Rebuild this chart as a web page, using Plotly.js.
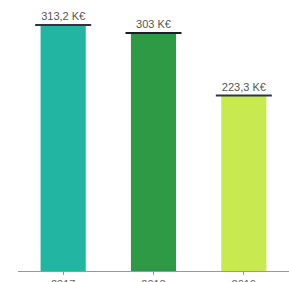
<!DOCTYPE html>
<html>
<head>
<meta charset="utf-8">
<script src="https://cdn.plot.ly/plotly-3.0.1.min.js"></script>
<style>html,body{margin:0;padding:0;background:#fff;}#chart{width:289px;height:282px;}</style>
</head>
<body>
<div id="chart"></div>
<script>
const years = ['2017', '2018', '2019'];
const values = [313.2, 303, 223.3];
const labels = ['313,2 K€', '303 K€', '223,3 K€'];
const barColors = ['#22b5a1', '#2e9a45', '#c8e94f'];
const capColors = ['#2f3346', '#1e1e1e', '#2f3346'];

const data = [
  {
    type: 'bar',
    x: years,
    y: values,
    text: labels,
    textposition: 'outside',
    cliponaxis: false,
    textfont: {family: 'Liberation Sans, Arial, sans-serif', size: 11, color: '#555'},
    marker: {color: barColors},
    hoverinfo: 'none'
  },
  {
    type: 'scatter',
    mode: 'markers',
    x: years,
    y: values,
    cliponaxis: false,
    marker: {symbol: 'line-ew', size: 40, color: capColors, line: {width: 2, color: capColors}},
    hoverinfo: 'none'
  }
];

const layout = {
  width: 289,
  height: 282,
  margin: {l: 18, r: 0, t: 0, b: 11},
  paper_bgcolor: '#fff',
  plot_bgcolor: '#fff',
  showlegend: false,
  bargap: 0.5,
  xaxis: {
    type: 'category',
    showline: true,
    linecolor: '#999',
    linewidth: 1,
    ticks: 'outside',
    ticklen: 3,
    tickcolor: '#999',
    showgrid: false,
    tickfont: {family: 'Liberation Sans, Arial, sans-serif', size: 11, color: '#666'}
  },
  yaxis: {
    range: [0, 345],
    visible: false,
    showgrid: false,
    zeroline: false
  }
};

Plotly.newPlot('chart', data, layout, {displayModeBar: false, staticPlot: true});
</script>
</body>
</html>
